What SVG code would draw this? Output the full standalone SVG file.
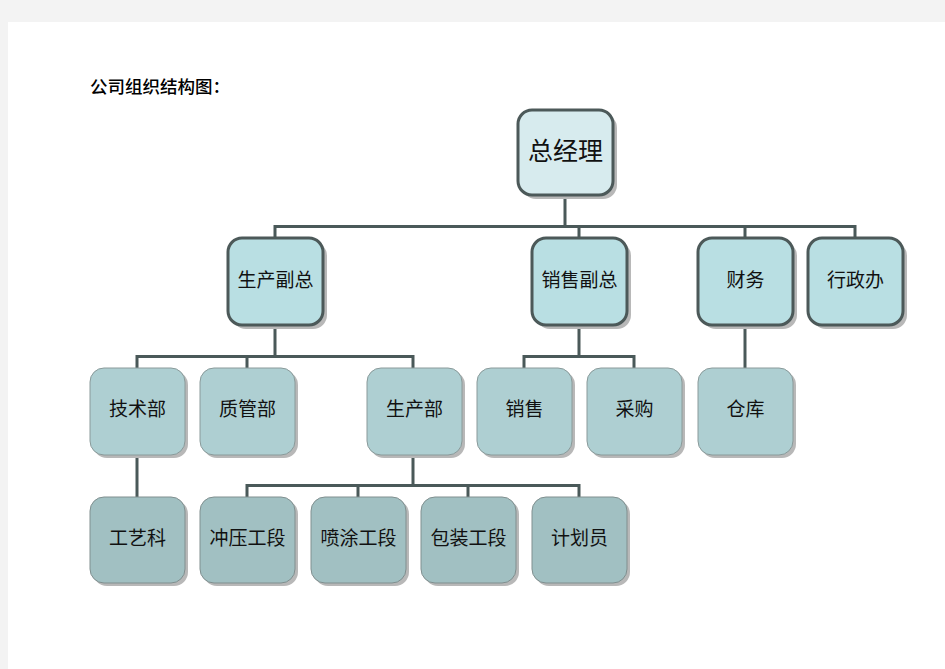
<svg xmlns="http://www.w3.org/2000/svg" width="945" height="669" viewBox="0 0 945 669">
<defs>
<style>
.t{font-family:"Noto Sans CJK SC","Noto Sans CJK JP",sans-serif;fill:#111;text-anchor:middle;dominant-baseline:central}
.lbl{font-size:19px}
.top{font-size:25px}
.sh{fill:#b8b8b8}
.b1{fill:#d7ebee;stroke:#4c5959;stroke-width:3}
.b2{fill:#b9dfe3;stroke:#4c5959;stroke-width:3}
.b3{fill:#aecfd2;stroke:#8a9a9a;stroke-width:1}
.b4{fill:#a1c0c2;stroke:#808f8f;stroke-width:1}
.c{fill:none;stroke:#4a5959;stroke-width:3}
</style>
</defs>
<rect x="0" y="0" width="945" height="669" fill="#f3f3f3"/>
<rect x="8" y="22" width="937" height="647" fill="#ffffff"/>
<text x="90" y="85" style="font-family:'Noto Sans CJK SC',sans-serif;font-size:17.5px;font-weight:500;fill:#000;dominant-baseline:central">公司组织结构图：</text>

<g id="connectors">
<path class="c" d="M565 195V226.5M275 238V226.5H855V238M579 226.5V238M745 226.5V238"/>
<path class="c" d="M275 325V356.5M137 368V356.5H413V368M247 356.5V368"/>
<path class="c" d="M579 325V356.5M524 368V356.5H634V368"/>
<path class="c" d="M745 325V368"/>
<path class="c" d="M137 455V497"/>
<path class="c" d="M413 455V485.5M247 497V485.5H579V497M358 485.5V497M468 485.5V497"/>
</g>

<g id="n-zjl"><rect class="sh" x="522" y="114" width="95" height="85" rx="14"/><rect class="b1" x="518" y="110" width="95" height="85" rx="14"/><text class="t top" x="565.5" y="149">总经理</text></g>

<g id="n-scfz"><rect class="sh" x="232" y="242" width="95" height="87" rx="14"/><rect class="b2" x="228" y="238" width="95" height="87" rx="14"/><text class="t lbl" x="275.5" y="278.5">生产副总</text></g>
<g id="n-xsfz"><rect class="sh" x="536" y="242" width="95" height="87" rx="14"/><rect class="b2" x="532" y="238" width="95" height="87" rx="14"/><text class="t lbl" x="579.5" y="278.5">销售副总</text></g>
<g id="n-cw"><rect class="sh" x="702" y="242" width="95" height="87" rx="14"/><rect class="b2" x="698" y="238" width="95" height="87" rx="14"/><text class="t lbl" x="745.5" y="278.5">财务</text></g>
<g id="n-xzb"><rect class="sh" x="812" y="242" width="95" height="87" rx="14"/><rect class="b2" x="808" y="238" width="95" height="87" rx="14"/><text class="t lbl" x="855.5" y="278.5">行政办</text></g>

<g id="n-jsb"><rect class="sh" x="93" y="371" width="95" height="87" rx="14"/><rect class="b3" x="90" y="368" width="95" height="87" rx="14"/><text class="t lbl" x="137.5" y="407">技术部</text></g>
<g id="n-zgb"><rect class="sh" x="203" y="371" width="95" height="87" rx="14"/><rect class="b3" x="200" y="368" width="95" height="87" rx="14"/><text class="t lbl" x="247.5" y="407">质管部</text></g>
<g id="n-scb"><rect class="sh" x="370" y="371" width="95" height="87" rx="14"/><rect class="b3" x="367" y="368" width="95" height="87" rx="14"/><text class="t lbl" x="414.5" y="407">生产部</text></g>
<g id="n-xs"><rect class="sh" x="480" y="371" width="95" height="87" rx="14"/><rect class="b3" x="477" y="368" width="95" height="87" rx="14"/><text class="t lbl" x="524.5" y="407">销售</text></g>
<g id="n-cg"><rect class="sh" x="590" y="371" width="95" height="87" rx="14"/><rect class="b3" x="587" y="368" width="95" height="87" rx="14"/><text class="t lbl" x="634.5" y="407">采购</text></g>
<g id="n-ck"><rect class="sh" x="701" y="371" width="95" height="87" rx="14"/><rect class="b3" x="698" y="368" width="95" height="87" rx="14"/><text class="t lbl" x="745.5" y="407">仓库</text></g>

<g id="n-gyk"><rect class="sh" x="93" y="500" width="95" height="86" rx="14"/><rect class="b4" x="90" y="497" width="95" height="86" rx="14"/><text class="t lbl" x="137.5" y="536">工艺科</text></g>
<g id="n-cygd"><rect class="sh" x="203" y="500" width="95" height="86" rx="14"/><rect class="b4" x="200" y="497" width="95" height="86" rx="14"/><text class="t lbl" x="247.5" y="536">冲压工段</text></g>
<g id="n-ptgd"><rect class="sh" x="314" y="500" width="95" height="86" rx="14"/><rect class="b4" x="311" y="497" width="95" height="86" rx="14"/><text class="t lbl" x="358.5" y="536">喷涂工段</text></g>
<g id="n-bzgd"><rect class="sh" x="424" y="500" width="95" height="86" rx="14"/><rect class="b4" x="421" y="497" width="95" height="86" rx="14"/><text class="t lbl" x="468.5" y="536">包装工段</text></g>
<g id="n-jhy"><rect class="sh" x="535" y="500" width="95" height="86" rx="14"/><rect class="b4" x="532" y="497" width="95" height="86" rx="14"/><text class="t lbl" x="579.5" y="536">计划员</text></g>
</svg>
